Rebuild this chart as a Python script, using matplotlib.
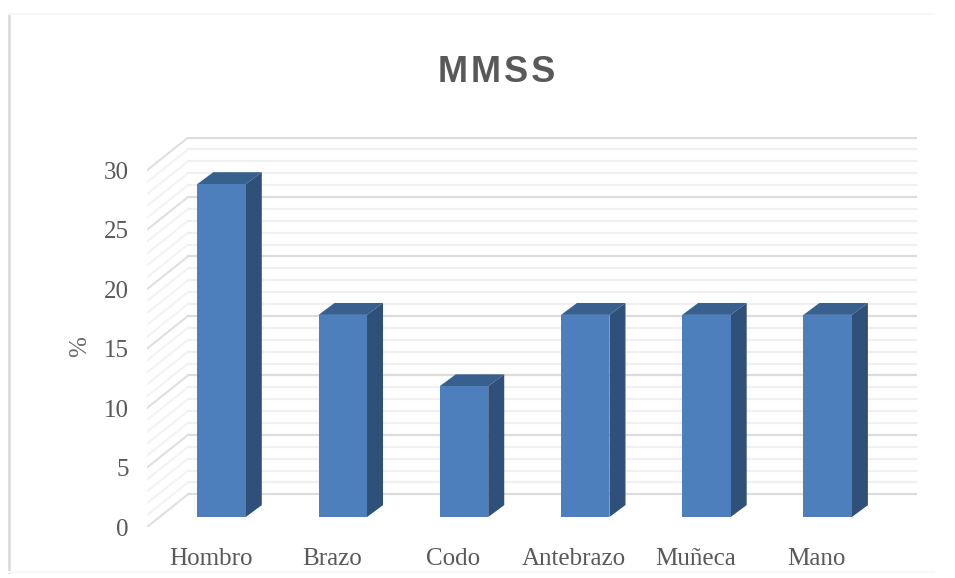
import matplotlib
matplotlib.use("Agg")
import matplotlib.pyplot as plt
from matplotlib.lines import Line2D

# values
categories = ["Hombro", "Brazo", "Codo", "Antebrazo", "Muñeca", "Mano"]
values = [28, 17, 11, 17, 17, 17]
y_ticks = [0, 5, 10, 15, 20, 25, 30]
grid_levels = list(range(0, 31))

W, H = 955, 578
fig = plt.figure(figsize=(W / 100, H / 100), dpi=100, facecolor="white")

# axes box in pixels: floor front-left corner to back-right top
left, right, bottom, top = 147, 917, 527, 137
ax = fig.add_axes([left / W, 1 - bottom / H, (right - left) / W, (bottom - top) / H])
ax.set_xlim(-0.615, 5.737)
ax.set_ylim(0, 32.8)
ax.patch.set_alpha(0)
for s in ax.spines.values():
    s.set_visible(False)

# 3d look: shift of back wall and of the bar depth, in data units
wall_dx, wall_dy = 0.338, 2.75
bar_dx, bar_dy = 0.132, 1.0
bar_base = 0.84
bar_w = 0.4

x0 = -0.615
for lev in grid_levels:
    major = lev % 5 == 0
    col = "#dcdcdc" if major else "#f0f0f0"
    side_col = "#e0e0e0" if major else "#f3f3f3"
    ax.plot([x0 + wall_dx, 5.737], [lev + wall_dy] * 2, color=col, lw=1.6, zorder=1)
    ax.plot([x0, x0 + wall_dx], [lev, lev + wall_dy], color=side_col, lw=1.5, zorder=1)

xs = list(range(len(categories)))
ax.bar(xs, values, width=bar_w, bottom=bar_base, color="#4c7fbc", zorder=4)
for x, v in zip(xs, values):
    xl, xr = x - bar_w / 2, x + bar_w / 2
    yt = bar_base + v
    # top face
    ax.fill([xl, xr, xr + bar_dx, xl + bar_dx], [yt, yt, yt + bar_dy, yt + bar_dy],
            color="#37608f", lw=0, zorder=3)
    # side face
    ax.fill([xr, xr + bar_dx, xr + bar_dx, xr],
            [bar_base, bar_base + bar_dy, yt + bar_dy, yt],
            color="#2f5078", lw=0, zorder=3)

ax.set_yticks(y_ticks)
ax.set_xticks([x - 0.09 for x in xs])
ax.set_xticklabels(categories)
ax.tick_params(length=0, labelcolor="#595959", labelsize=18)
ax.tick_params(axis="y", pad=13)
ax.tick_params(axis="x", pad=15)
for lab in ax.get_xticklabels() + ax.get_yticklabels():
    lab.set_family("Liberation Serif")

fig.text(80 / W, 1 - 347 / H, "%", rotation=90, ha="center", va="center",
         color="#6a6a6a", fontsize=18, family="Liberation Serif")
# hair spaces give the wide letter spacing of the title
fig.text(497 / W, 1 - 73 / H, "M\u200aM\u200aS\u200aS", ha="center", va="center",
         color="#595959", fontsize=26, fontweight="bold",
         family=["Liberation Sans", "DejaVu Sans"])

# faint chart frame, only the left side is really visible
frame = [((9, 9), (14, 572), "#d9d9d9", 1.8),
         ((9, 934), (14, 14), "#f6f6f6", 1.5),
         ((9, 934), (572, 572), "#f8f8f8", 1.5)]
for fx, fy, c, w in frame:
    fig.add_artist(Line2D([p / W for p in fx], [1 - p / H for p in fy],
                          transform=fig.transFigure, color=c, lw=w))

fig.savefig("out.png", dpi=100)
